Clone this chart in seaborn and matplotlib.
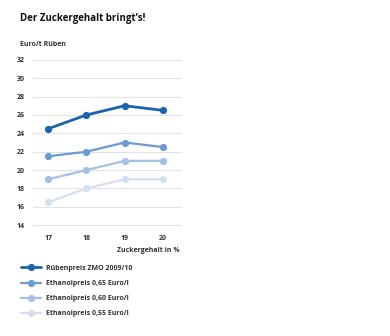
import matplotlib
matplotlib.use("Agg")
import matplotlib.pyplot as plt
import seaborn as sns
import pandas as pd

sugar = [17, 18, 19, 20]
series_names = ["Rübenpreis ZMO 2009/10", "Ethanolpreis 0,65 Euro/l",
                "Ethanolpreis 0,60 Euro/l", "Ethanolpreis 0,55 Euro/l"]
ruebenpreis = [24.5, 26, 27, 26.5]
eth065 = [21.5, 22, 23, 22.5]
eth060 = [19, 20, 21, 21]
eth055 = [16.5, 18, 19, 19]
yticks = [14, 16, 18, 20, 22, 24, 26, 28, 30, 32]
colors = ["#1a63ad", "#6a9bd2", "#a3c0e5", "#d3e0f2"]
widths = [2.0, 1.6, 1.6, 1.6]

rows = []
for name, vals in zip(series_names, [ruebenpreis, eth065, eth060, eth055]):
    for x, v in zip(sugar, vals):
        rows.append({"x": x, "y": v, "s": name})
df = pd.DataFrame(rows)

sns.set_theme(style="white")
plt.rcParams["font.family"] = ["Open Sans", "DejaVu Sans"]

fig = plt.figure(figsize=(3.9, 3.36), dpi=100)
ax = fig.add_axes([33/390, 1 - 227/336, (182-33)/390, (227-58)/336])

for name, c, lw in zip(series_names, colors, widths):
    sub = df[df.s == name]
    sns.lineplot(data=sub, x="x", y="y", ax=ax, color=c, lw=lw,
                 marker="o", markersize=5.2, markeredgewidth=0, label=name)

ax.set_xlim(16.6, 20.5)
ax.set_ylim(13.8, 32.2)
ax.set_yticks(yticks)
ax.set_xticks(sugar)
ax.grid(axis="y", color="#e2e2e2", lw=0.8)
ax.set_axisbelow(True)
for sp in ax.spines.values():
    sp.set_visible(False)
ax.tick_params(axis="both", length=0, labelsize=5.0, colors="#333333", pad=6)
for lab in ax.get_xticklabels() + ax.get_yticklabels():
    lab.set_fontweight("bold")
ax.set_xlabel("")
ax.set_ylabel("")

ax.legend_.remove()
handles, labels = ax.get_legend_handles_labels()
leg = fig.legend(handles, labels, loc="upper left", bbox_to_anchor=(18/390, 1 - 262/336),
                 frameon=False, fontsize=5.0, handlelength=2.9, labelspacing=1.18,
                 handletextpad=0.8, borderaxespad=0)
for t in leg.get_texts():
    t.set_fontweight("bold")
    t.set_color("#333333")

fig.text(20/390, 1 - 19/336, "Der Zuckergehalt bringt\u2019s!", fontsize=7.0,
         fontweight="bold", color="#111111", va="center")
fig.text(20/390, 1 - 44/336, "Euro/t Rüben", fontsize=5.0, fontweight="bold",
         color="#333333", va="center")
fig.text(180/390, 1 - 251/336, "Zuckergehalt in %", fontsize=5.0, fontweight="bold",
         color="#333333", va="center", ha="right")

fig.savefig("out.png", dpi=100, facecolor="white")
